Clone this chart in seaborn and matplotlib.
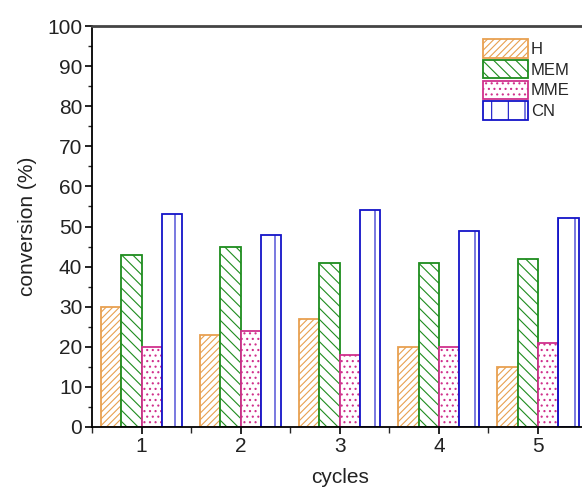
import matplotlib
matplotlib.use("Agg")
import matplotlib.pyplot as plt
import seaborn as sns
import pandas as pd
from matplotlib.patches import Patch
from matplotlib.ticker import MultipleLocator

cycles = ["1", "2", "3", "4", "5"]
series = ["H", "MEM", "MME", "CN"]
H = [30, 23, 27, 20, 15]
MEM = [43, 45, 41, 41, 42]
MME = [20, 24, 18, 20, 21]
CN = [53, 48, 54, 49, 52]

edge_colors = {"H": "#E8A050", "MEM": "#1E8C1E", "MME": "#D0308C", "CN": "#1414C8"}
hatches = {"H": "/////", "MEM": "\\\\\\", "MME": "...", "CN": "|"}

rows = []
for name, vals in zip(series, [H, MEM, MME, CN]):
    for c, v in zip(cycles, vals):
        rows.append({"cycles": c, "series": name, "value": v})
df = pd.DataFrame(rows)

sns.set_theme(style="ticks")
plt.rcParams["font.family"] = ["Liberation Sans", "DejaVu Sans"]
plt.rcParams["hatch.linewidth"] = 0.8

fig = plt.figure(figsize=(5.82, 4.91), dpi=100)
ax = fig.add_axes([92 / 582, 1 - 427 / 491, (587.5 - 92) / 582, (427 - 26) / 491])

sns.barplot(data=df, x="cycles", y="value", hue="series", order=cycles,
            hue_order=series, width=0.82, palette=["white"] * 4,
            saturation=1, legend=False, ax=ax)

for container, name in zip(ax.containers, series):
    for bar in container:
        bar.set_facecolor("white")
        bar.set_edgecolor(edge_colors[name])
        bar.set_hatch(hatches[name])
        bar.set_linewidth(1.3)

ax.set_xlim(-0.5, 4.5)
ax.set_ylim(0, 100)
ax.yaxis.set_major_locator(MultipleLocator(10))
ax.yaxis.set_minor_locator(MultipleLocator(5))
ax.xaxis.set_minor_locator(MultipleLocator(0.5))
ax.tick_params(which="major", direction="out", length=5, width=1.2, labelsize=15, colors="black", pad=2)
ax.tick_params(which="minor", direction="out", length=3, width=1.0)
ax.tick_params(axis="x", which="minor", length=4)
ax.set_xlabel("cycles", fontsize=15, labelpad=9, color="#222222")
ax.set_ylabel("conversion (%)", fontsize=15, labelpad=7, color="#222222")

for s in ["left", "bottom"]:
    ax.spines[s].set_linewidth(1.3)
    ax.spines[s].set_color("black")
ax.spines["top"].set_linewidth(2)
ax.spines["top"].set_color("#444444")
ax.spines["right"].set_visible(False)
for lab in ax.get_xticklabels() + ax.get_yticklabels():
    lab.set_color("#222222")

handles = [Patch(facecolor="white", edgecolor=edge_colors[n], hatch=hatches[n], linewidth=1.3, label=n)
           for n in series]
leg = ax.legend(handles=handles, loc="upper left", bbox_to_anchor=((480 - 92) / (587.5 - 92), 1 - 10 / 401),
                frameon=False, fontsize=12, handlelength=2.65, handleheight=1.3,
                handletextpad=0.2, labelspacing=0.15, borderpad=0.2, borderaxespad=0)

fig.savefig("out.png", dpi=100)
